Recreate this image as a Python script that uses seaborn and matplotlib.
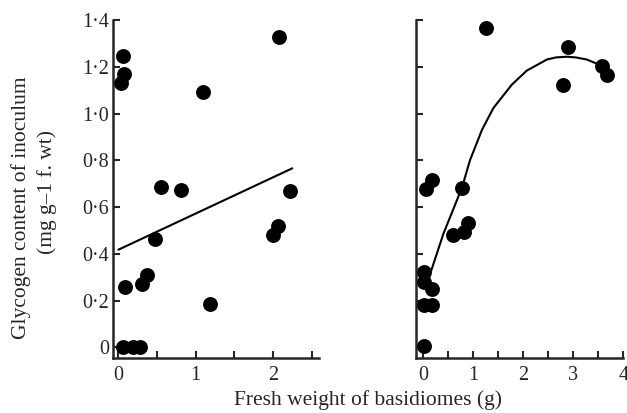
import numpy as np
import pandas as pd
import seaborn as sns
import matplotlib.pyplot as plt
from matplotlib.ticker import FixedLocator, FuncFormatter

# left panel: points and straight fit line
left_x = [0.055, 0.077, 0.03, 2.08, 1.10, 0.555, 0.81, 2.22, 2.07, 2.00, 0.47, 0.37, 0.30, 0.085, 1.18, 0.055, 0.19, 0.285]
left_y = [1.248, 1.171, 1.131, 1.328, 1.092, 0.687, 0.673, 0.670, 0.518, 0.480, 0.465, 0.308, 0.272, 0.258, 0.186, 0.0, 0.0, 0.0]
left_fit_x = [0.0, 2.25]
left_fit_y = [0.418, 0.766]

# right panel: points and fitted curve
right_x = [1.25, 2.89, 2.80, 3.58, 3.68, 0.17, 0.05, 0.77, 0.89, 0.82, 0.60, 0.01, 0.02, 0.17, 0.01, 0.17, 0.01]
right_y = [1.367, 1.285, 1.124, 1.205, 1.167, 0.716, 0.676, 0.683, 0.534, 0.494, 0.480, 0.322, 0.279, 0.250, 0.183, 0.183, 0.007]
right_fit_x = [0.10, 0.40, 0.77, 0.93, 1.05, 1.17, 1.40, 1.60, 1.77, 2.07, 2.25, 2.47, 2.65, 2.87, 3.05, 3.27, 3.45, 3.57, 3.70]
right_fit_y = [0.293, 0.487, 0.683, 0.800, 0.865, 0.930, 1.024, 1.078, 1.124, 1.184, 1.205, 1.231, 1.240, 1.243, 1.240, 1.231, 1.215, 1.203, 1.174]

yticks = [0, 0.2, 0.4, 0.6, 0.8, 1.0, 1.2, 1.4]

sns.set_style("ticks")
plt.rcParams['font.family'] = ['Liberation Serif', 'DejaVu Serif']
plt.rcParams['axes.linewidth'] = 1.8

fig = plt.figure(figsize=(6.27, 4.13), dpi=100)
ax1 = fig.add_axes([113/627, 55/413, 205.6/627, 338/413])
ax2 = fig.add_axes([416/627, 55/413, 207.3/627, 338/413])

def ylab(v, pos):
    if v == 0:
        return "0"
    return f"{v:.1f}".replace(".", "\u00b7")

for ax, xs, ys, fx, fy, xlim, xmax in [
    (ax1, left_x, left_y, left_fit_x, left_fit_y, (-0.07, 2.59), 2.5),
    (ax2, right_x, right_y, right_fit_x, right_fit_y, (-0.15, 4.0), 4.0),
]:
    df = pd.DataFrame({"x": xs, "y": ys})
    fit = pd.DataFrame({"x": fx, "y": fy})
    sns.lineplot(data=fit, x="x", y="y", ax=ax, color="black", lw=1.5, sort=False)
    sns.scatterplot(data=df, x="x", y="y", ax=ax, color="black", s=115, linewidth=0, zorder=3)
    ax.set_xlim(*xlim)
    ax.set_ylim(-0.045, 1.4)
    sns.despine(ax=ax)
    ax.set_xlabel("")
    ax.set_ylabel("")
    ax.xaxis.set_major_locator(FixedLocator(np.arange(0, xmax + 0.01, 1.0)))
    ax.xaxis.set_minor_locator(FixedLocator(np.arange(0.5, xmax + 0.01, 1.0)))
    ax.yaxis.set_major_locator(FixedLocator(yticks))
    ax.tick_params(axis="both", which="both", direction="in", length=5, width=1.5, labelsize=14.5, pad=6)
    ax.tick_params(axis="y", pad=3)

ax1.yaxis.set_major_formatter(FuncFormatter(ylab))
ax2.set_yticklabels([])

fig.text(368/627, 1 - 400/413, "Fresh weight of basidiomes (g)", ha="center", va="center", fontsize=15.5)
fig.text(21/627, 1 - 208/413, "Glycogen content of inoculum", ha="center", va="center",
         rotation=90, fontsize=15.5)
fig.text(47/627, 1 - 192/413, "(mg g\u20131 f. wt)", ha="center", va="center",
         rotation=90, fontsize=15.5)

fig.savefig("out.png", dpi=100)
